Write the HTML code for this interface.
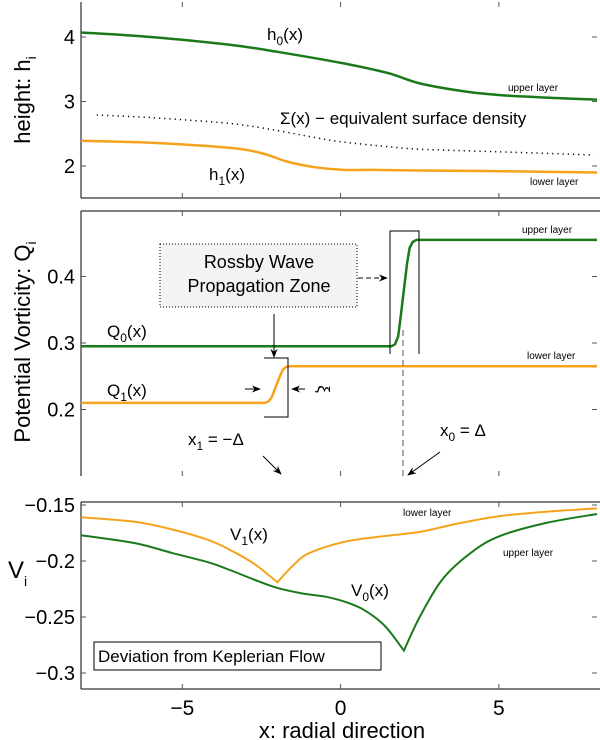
<!DOCTYPE html>
<html><head><meta charset="utf-8">
<style>
html,body{margin:0;padding:0;background:#fff;}
svg{display:block;font-family:"Liberation Sans",sans-serif;}
</style></head>
<body>
<svg id="chart" width="600" height="740" viewBox="0 0 600 740" xmlns="http://www.w3.org/2000/svg">
<defs>
<marker id="ah" viewBox="0 0 10 10" refX="9" refY="5" markerWidth="9" markerHeight="9" orient="auto"><path d="M0,1 L10,5 L0,9 L3,5 Z" fill="#000"/></marker>
</defs>
<g id="axes"></g>
<g id="marks"></g>
<g id="annot"></g>
</svg>
<script>
// ---- data ----
const xTicks = [-5, 0, 5];
const hTicks = [2, 3, 4];
const qTicks = [0.2, 0.3, 0.4];
const vTicks = [-0.3, -0.25, -0.2, -0.15];

const h0X = [-8.2, -6, -3.5, -2, 0.1, 1.5, 2.5, 4, 5, 6.5, 8.1];
const h0Y = [4.07, 4.0, 3.88, 3.77, 3.59, 3.44, 3.28, 3.15, 3.10, 3.06, 3.03];
const h1X = [-8.2, -6, -3.5, -2.5, -1.7, -0.8, 0.1, 1, 2.5, 5, 8.1];
const h1Y = [2.39, 2.36, 2.28, 2.2, 2.07, 1.98, 1.94, 1.94, 1.93, 1.92, 1.90];
const sX = [-7.7, -6, -3.5, -2, -0.8, 0.1, 1.5, 2.5, 5, 8];
const sY = [2.79, 2.75, 2.66, 2.55, 2.44, 2.37, 2.30, 2.26, 2.22, 2.17];

const q0X = [-8.2, 1.6, 1.72, 1.82, 1.9, 2.0, 2.1, 2.18, 2.28, 2.4, 8.1];
const q0Y = [0.295, 0.295, 0.298, 0.31, 0.34, 0.38, 0.42, 0.443, 0.452, 0.455, 0.455];
const q1X = [-8.2, -2.4, -2.28, -2.18, -2.1, -2.0, -1.9, -1.82, -1.72, -1.6, 8.1];
const q1Y = [0.21, 0.21, 0.212, 0.218, 0.228, 0.24, 0.252, 0.26, 0.264, 0.265, 0.265];

const v1X = [-8.2, -6.5, -5.3, -4.2, -3.5, -2.7, -2.0, -1.5, -1.0, 0.1, 1.3, 2.5, 3.8, 5, 6.5, 8.1];
const v1Y = [-0.161, -0.165, -0.172, -0.181, -0.19, -0.203, -0.219, -0.204, -0.193, -0.183, -0.178, -0.174, -0.166, -0.160, -0.156, -0.153];
const v0X = [-8.2, -6.5, -5.3, -4.2, -3.5, -2.7, -2.0, -1.2, -0.45, 0.2, 0.76, 1.4, 2.0, 2.5, 3.2, 4.1, 5, 6.5, 8.1];
const v0Y = [-0.177, -0.184, -0.193, -0.201, -0.208, -0.217, -0.224, -0.229, -0.232, -0.237, -0.244, -0.258, -0.280, -0.25, -0.217, -0.193, -0.178, -0.166, -0.158];

// ---- scales ----
const X0 = 81, X1 = 597, XMIN = -8.2, XMAX = 8.1;
const sx = v => X0 + (v - XMIN) / (XMAX - XMIN) * (X1 - X0);
const syH = v => 166 - (v - 2) * 64.5;
const syQ = v => 476 - (v - 0.1) * 665;
const syV = v => 505 - (v + 0.15) * 1120;

const NS = "http://www.w3.org/2000/svg";
function el(tag, attrs, parent, text) {
  const e = document.createElementNS(NS, tag);
  for (const k in attrs) e.setAttribute(k, attrs[k]);
  if (text !== undefined) e.textContent = text;
  document.getElementById(parent).appendChild(e);
  return e;
}
function smoothSeg(p, first) {
  let d = first ? "M" + p[0][0].toFixed(1) + "," + p[0][1].toFixed(1) : "";
  for (let i = 0; i < p.length - 1; i++) {
    const p0 = p[Math.max(0, i - 1)], p1 = p[i], p2 = p[i + 1], p3 = p[Math.min(p.length - 1, i + 2)];
    const t = 0.16;
    d += " C" + (p1[0] + (p2[0] - p0[0]) * t).toFixed(1) + "," + (p1[1] + (p2[1] - p0[1]) * t).toFixed(1) +
      " " + (p2[0] - (p3[0] - p1[0]) * t).toFixed(1) + "," + (p2[1] - (p3[1] - p1[1]) * t).toFixed(1) +
      " " + p2[0].toFixed(1) + "," + p2[1].toFixed(1);
  }
  return d;
}
function smoothPath(xs, ys, fy) {
  return smoothSeg(xs.map((x, i) => [sx(x), fy(ys[i])]), true);
}
// sharp cusp at the minimum value: smooth each side separately
function cuspPath(xs, ys, fy) {
  const p = xs.map((x, i) => [sx(x), fy(ys[i])]);
  let k = 0;
  ys.forEach((v, i) => { if (v < ys[k]) k = i; });
  return smoothSeg(p.slice(0, k + 1), true) + smoothSeg(p.slice(k), false);
}
function polyPath(xs, ys, fy) {
  return xs.map((x, i) => (i ? "L" : "M") + sx(x).toFixed(1) + "," + fy(ys[i]).toFixed(1)).join(" ");
}

// ---- axes ----
const panels = [
  {name: "height", top: 2, bot: 198, fy: syH, ticks: hTicks, fmt: v => String(v), lines: ["left", "bottom"]},
  {name: "vorticity", top: 211, bot: 476, fy: syQ, ticks: qTicks, fmt: v => v.toFixed(1), lines: ["left", "top"]},
  {name: "velocity", top: 502, bot: 689, fy: syV, ticks: vTicks, fmt: v => "\u2212" + Math.abs(v).toString(), lines: ["left", "top", "bottom"]}
];
panels.forEach(p => {
  let a;
  if (p.lines.includes("left")) { a = el("line", {x1: X0, y1: p.top, x2: X0, y2: p.bot, stroke: "#000", "stroke-width": 1}, "axes");   }
  if (p.lines.includes("top")) { a = el("line", {x1: X0, y1: p.top, x2: 600, y2: p.top, stroke: "#000", "stroke-width": 1}, "axes");   }
  if (p.lines.includes("bottom")) { a = el("line", {x1: X0, y1: p.bot, x2: 600, y2: p.bot, stroke: "#000", "stroke-width": 1}, "axes");   }
  xTicks.forEach(t => {
    const x = sx(t);
    a = el("line", {x1: x, y1: p.top, x2: x, y2: p.top + 5, stroke: "#555", "stroke-width": 1}, "axes");
     
    a = el("line", {x1: x, y1: p.bot, x2: x, y2: p.bot - 5, stroke: "#555", "stroke-width": 1}, "axes");
     
  });
  p.ticks.forEach(t => {
    const y = p.fy(t);
    a = el("line", {x1: X0, y1: y, x2: X0 + 5, y2: y, stroke: "#555", "stroke-width": 1}, "axes");
     
    a = el("line", {x1: 597, y1: y, x2: 592, y2: y, stroke: "#555", "stroke-width": 1}, "axes");
     
    a = el("text", {x: 75, y: y + 7, "text-anchor": "end", "font-size": 20}, "axes", p.fmt(t));
     
  });
});
xTicks.forEach(t => {
  const a = el("text", {x: sx(t), y: 715, "text-anchor": "middle", "font-size": 21}, "axes", t < 0 ? "\u2212" + Math.abs(t) : String(t));
   
});

// ---- series ----
const green = "#1a7a1a", orange = "#f5a31c";
let m;
m = el("path", {d: smoothPath(h0X, h0Y, syH), fill: "none", stroke: green, "stroke-width": 2.5}, "marks");  
m = el("path", {d: smoothPath(h1X, h1Y, syH), fill: "none", stroke: orange, "stroke-width": 2.5}, "marks");  
m = el("path", {d: smoothPath(sX, sY, syH), fill: "none", stroke: "#000", "stroke-width": 1.5, "stroke-dasharray": "1.2,4"}, "marks");  
m = el("path", {d: polyPath(q0X, q0Y, syQ), fill: "none", stroke: green, "stroke-width": 2.5, "stroke-linejoin": "round"}, "marks");  
m = el("path", {d: polyPath(q1X, q1Y, syQ), fill: "none", stroke: orange, "stroke-width": 2.5, "stroke-linejoin": "round"}, "marks");  
m = el("path", {d: cuspPath(v1X, v1Y, syV), fill: "none", stroke: orange, "stroke-width": 2}, "marks");  
m = el("path", {d: cuspPath(v0X, v0Y, syV), fill: "none", stroke: green, "stroke-width": 2}, "marks");  
</script>
<script>
// ---- annotations (static) ----
const A = document.getElementById("annot");
A.innerHTML = `
<text transform="translate(30,100) rotate(-90)" text-anchor="middle" font-size="22">height: h<tspan font-size="14" dy="6">i</tspan></text>
<text transform="translate(30,342) rotate(-90)" text-anchor="middle" font-size="22">Potential Vorticity: Q<tspan font-size="14" dy="6">i</tspan></text>
<text x="8" y="578" font-size="24">V<tspan font-size="14" dy="8">i</tspan></text>
<text x="342" y="738" text-anchor="middle" font-size="22">x: radial direction</text>

<text x="267" y="40" font-size="17">h<tspan font-size="12" dy="5">0</tspan><tspan dy="-5">(x)</tspan></text>
<text x="508" y="91" font-size="10">upper layer</text>
<text x="280" y="124" font-size="17">Σ(x) − equivalent surface density</text>
<text x="209" y="180" font-size="17">h<tspan font-size="12" dy="5">1</tspan><tspan dy="-5">(x)</tspan></text>
<text x="530" y="185" font-size="10">lower layer</text>

<text x="522" y="233" font-size="10">upper layer</text>
<text x="527" y="359" font-size="10">lower layer</text>
<rect x="160" y="244" width="197" height="63" fill="#f3f3f3" stroke="#000" stroke-width="1" stroke-dasharray="1,2"/>
<text x="259" y="268" text-anchor="middle" font-size="18">Rossby Wave</text>
<text x="259" y="292" text-anchor="middle" font-size="18">Propagation Zone</text>
<line x1="358" y1="278" x2="387" y2="278" stroke="#000" stroke-width="1" stroke-dasharray="5,3" marker-end="url(#ah)"/>
<polyline points="390,354 390,231 419,231 419,354" fill="none" stroke="#000" stroke-width="1"/>
<polyline points="264,358 288,358 288,417 264,417" fill="none" stroke="#000" stroke-width="1"/>
<line x1="274" y1="314" x2="274" y2="357" stroke="#000" stroke-width="1" marker-end="url(#ah)"/>
<line x1="245" y1="389" x2="260" y2="389" stroke="#000" stroke-width="1" marker-end="url(#ah)"/>
<line x1="305" y1="389" x2="292" y2="389" stroke="#000" stroke-width="1" marker-end="url(#ah)"/>
<text transform="translate(318,389) rotate(90)" text-anchor="middle" font-size="17">ξ</text>
<text x="107" y="337" font-size="17">Q<tspan font-size="12" dy="5">0</tspan><tspan dy="-5">(x)</tspan></text>
<text x="107" y="396" font-size="17">Q<tspan font-size="12" dy="5">1</tspan><tspan dy="-5">(x)</tspan></text>
<line x1="403" y1="330" x2="403" y2="478" stroke="#555" stroke-width="1" stroke-dasharray="6,4"/>
<text x="188" y="445" font-size="17">x<tspan font-size="12" dy="5">1</tspan><tspan dy="-5"> = −Δ</tspan></text>
<text x="440" y="436" font-size="17">x<tspan font-size="12" dy="5">0</tspan><tspan dy="-5"> = Δ</tspan></text>
<line x1="263" y1="456" x2="281" y2="474" stroke="#000" stroke-width="1" marker-end="url(#ah)"/>
<line x1="440" y1="452" x2="408" y2="475" stroke="#000" stroke-width="1" marker-end="url(#ah)"/>

<text x="403" y="516" font-size="10">lower layer</text>
<text x="503" y="556" font-size="10">upper layer</text>
<text x="230" y="540" font-size="17">V<tspan font-size="12" dy="5">1</tspan><tspan dy="-5">(x)</tspan></text>
<text x="351" y="596" font-size="17">V<tspan font-size="12" dy="5">0</tspan><tspan dy="-5">(x)</tspan></text>
<rect x="94" y="642" width="287" height="28" fill="#fff" stroke="#000" stroke-width="1"/>
<text x="98" y="662" font-size="17">Deviation from Keplerian Flow</text>
`;
</script>
</body></html>
